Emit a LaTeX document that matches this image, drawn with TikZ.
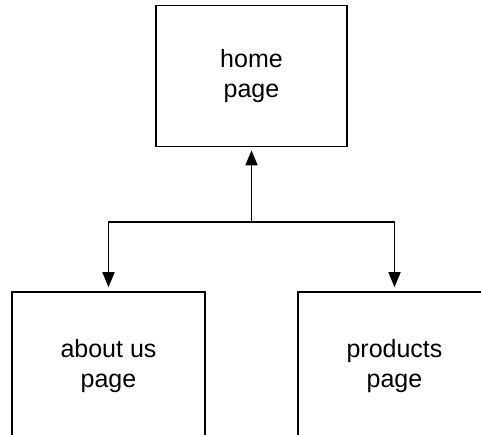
\documentclass[tikz,border=0pt]{standalone}
\usepackage{fontspec}
\setmainfont{Liberation Sans}
\usetikzlibrary{arrows.meta}
\begin{document}
\begin{tikzpicture}[x=1pt,y=-1pt,
  pagebox/.style={draw,line width=1.6pt,minimum width=191pt,minimum height=141pt,inner sep=0pt,align=center,font=\fontsize{25}{30}\selectfont},
  conn/.style={line width=1.6pt,-{Triangle[width=12pt,length=15pt]}}]
\useasboundingbox (0,0) rectangle (481,435);
\node[pagebox] (home) at (251.5,76) {home\\page};
\node[pagebox,minimum width=193pt,minimum height=148pt] (about) at (108.5,366) {about us\\page};
\node[pagebox,minimum width=193pt,minimum height=148pt] (products) at (394.5,366) {products\\page};
\coordinate (j) at (251.5,222);
\draw[conn,shorten >=3pt] (j) -- (home.south);
\draw[conn,shorten >=4pt] (j) -| (about.north);
\draw[conn,shorten >=4pt] (j) -| (products.north);
\end{tikzpicture}
\end{document}
